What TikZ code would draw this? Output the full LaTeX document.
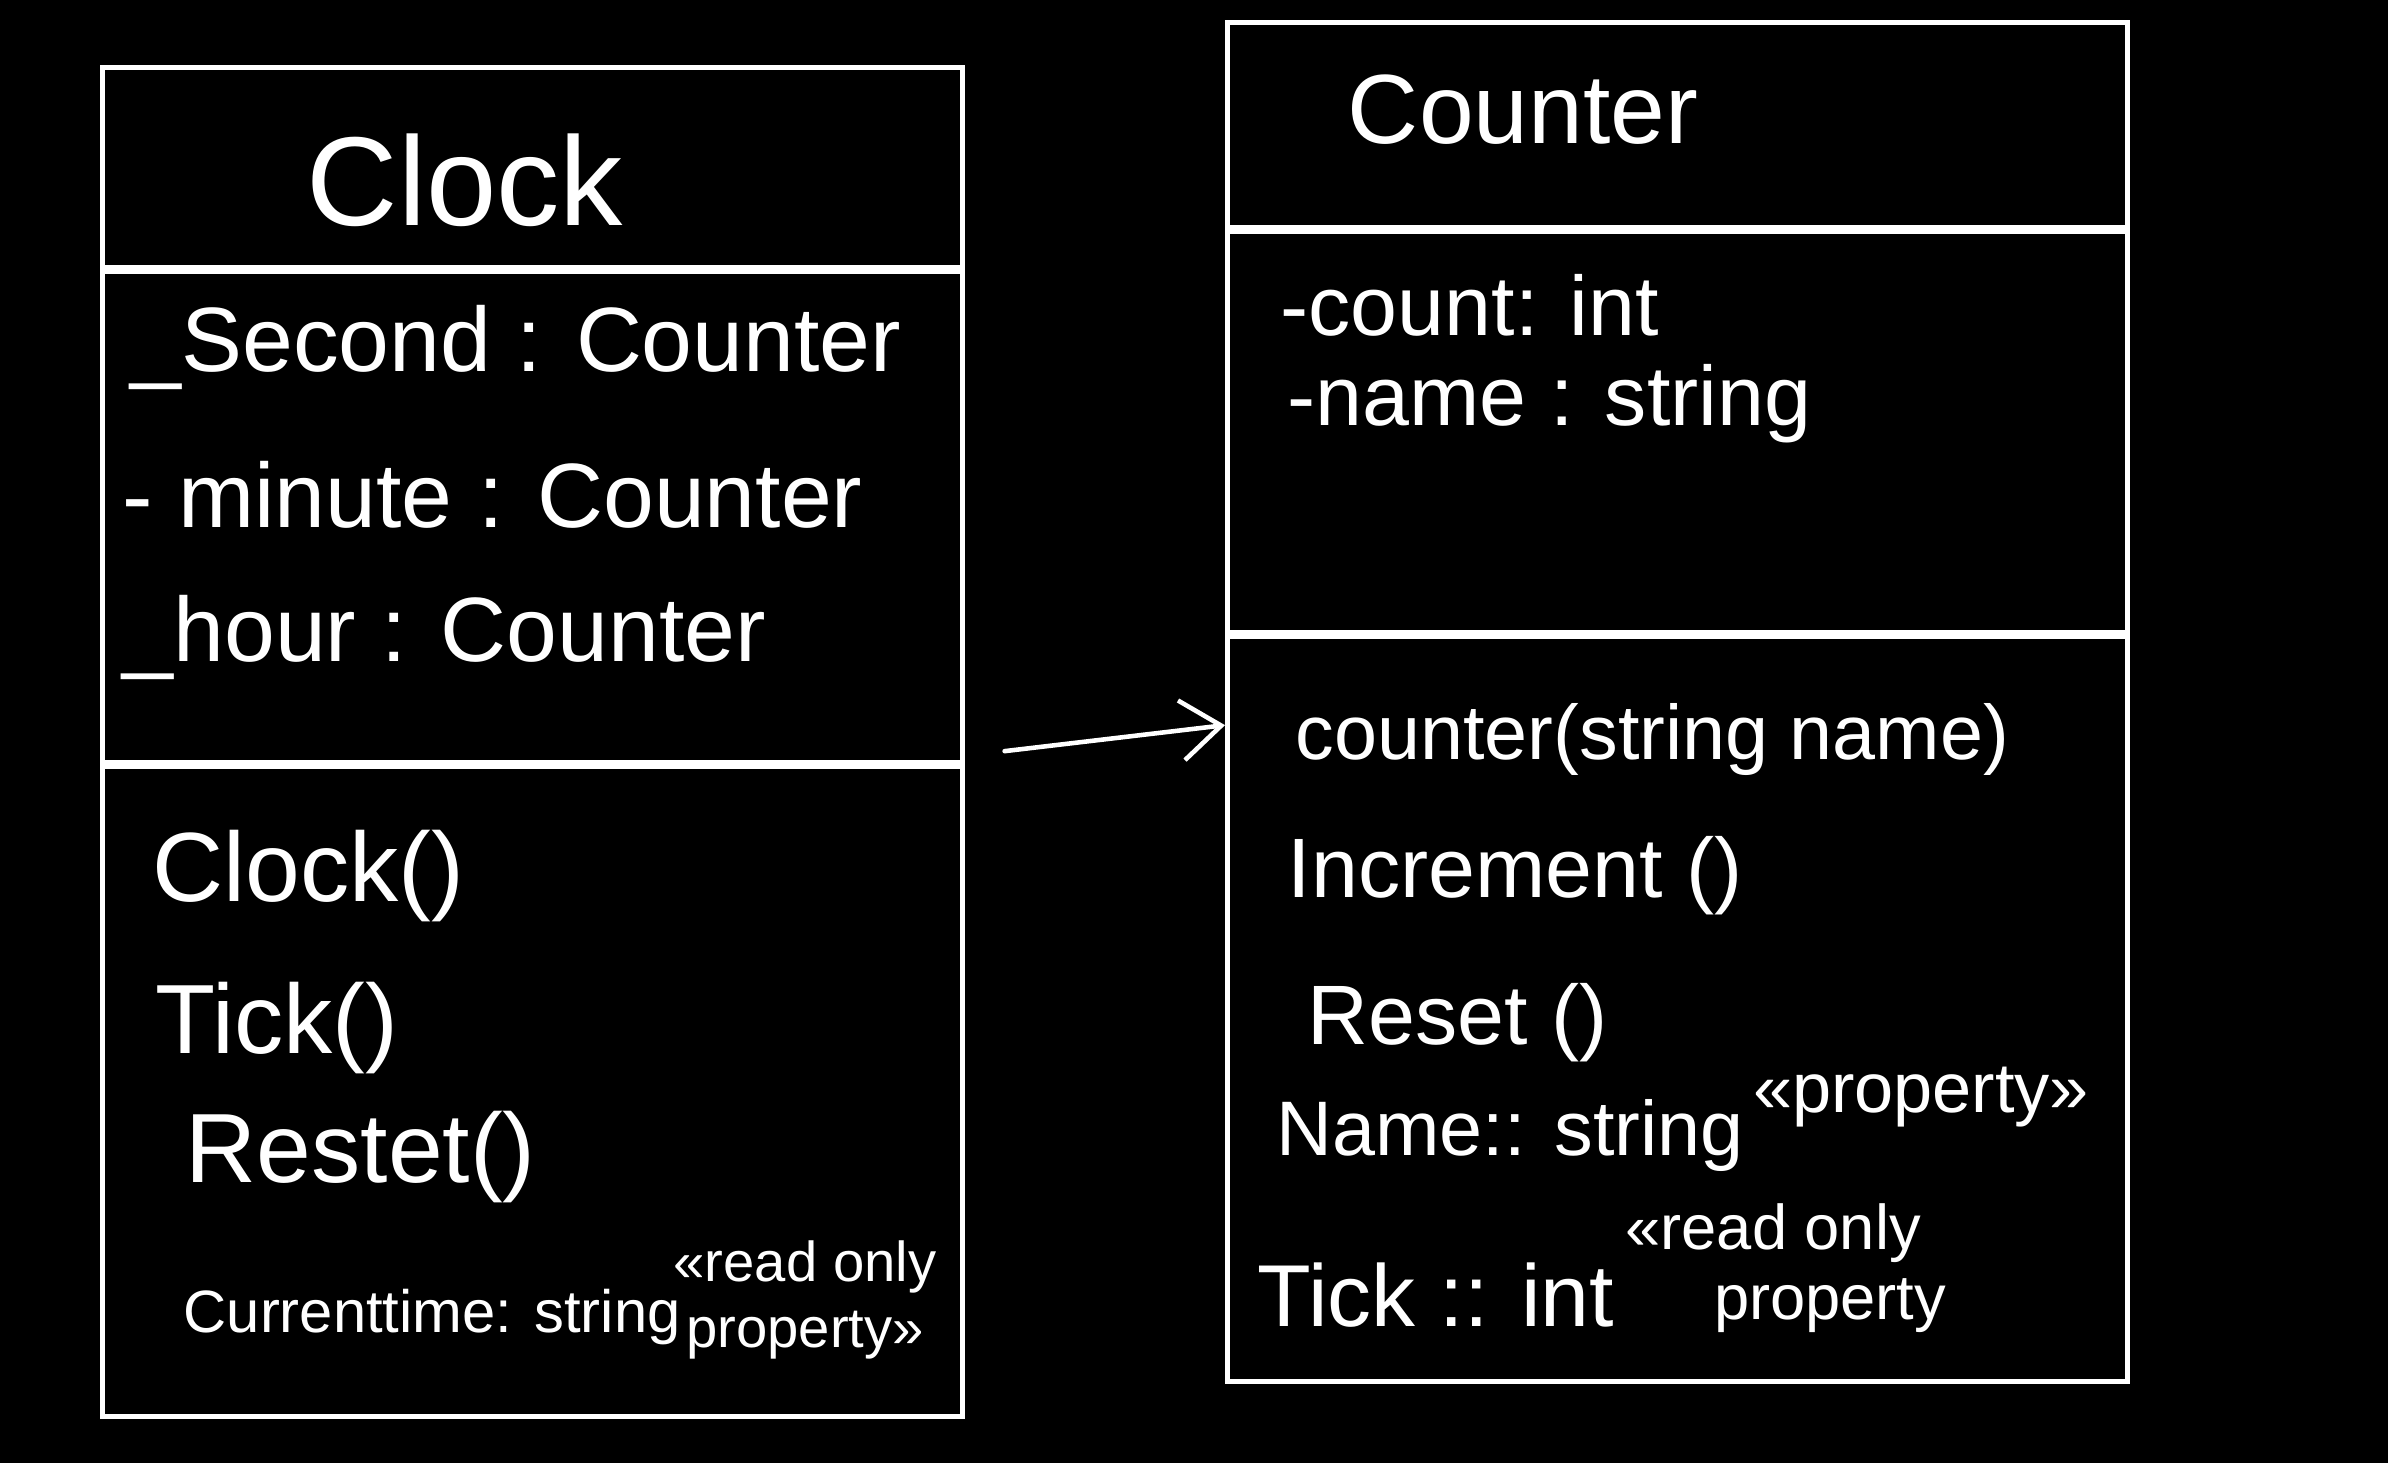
\documentclass[tikz,border=0pt]{standalone}
\usepackage{fontspec}
\setmainfont{Liberation Sans}
\usetikzlibrary{arrows.meta, positioning, calc}
\definecolor{cInk}{RGB}{255, 255, 255}
\definecolor{cBoard}{RGB}{0, 0, 0}
\tikzset{
    % compartments of a class box
    partNode/.style={
        rectangle, draw=cInk, line width=1.3pt,
        anchor=north west, inner sep=0pt
    },
    % class names
    titleNode/.style={
        text=cInk, inner sep=0pt, font=\fontsize{28}{32}\selectfont
    },
    % attributes and operations
    memberNode/.style={
        text=cInk, anchor=west, inner sep=0pt, font=\fontsize{24}{28}\selectfont
    },
    % stereotypes
    stereoNode/.style={
        text=cInk, inner sep=0pt, align=center, font=\fontsize{16}{19}\selectfont
    },
    % association
    conn/.style={
        -{Straight Barb[length=4mm, width=6mm]}, draw=cInk, line width=1.3pt, line cap=round
    }
}

\begin{document}
\begin{tikzpicture}

	\fill[cBoard] (0,0) rectangle (23.88,-14.63);
	\useasboundingbox (0,0) rectangle (23.88,-14.63);

	% 1. Clock
	\node[partNode, minimum width=8.6cm, minimum height=2.0cm] (clockTitle) at (1.00,-0.65) {};
	\node[partNode, minimum width=8.6cm, minimum height=4.9cm] (clockAttr) at (clockTitle.south west) {};
	\node[partNode, minimum width=8.6cm, minimum height=6.5cm] (clockOps) at (clockAttr.south west) {};

	\node[titleNode, font=\fontsize{36}{40}\selectfont] (clockName) at (4.65,-1.80) {Clock};

	\node[memberNode, font=\fontsize{26}{30}\selectfont] (second) at (1.30,-3.47) {\_Second : Counter};
	\node[memberNode, font=\fontsize{26}{30}\selectfont] (minute) at (1.22,-4.95) {- minute : Counter};
	\node[memberNode, font=\fontsize{26}{30}\selectfont] (hour) at (1.22,-6.37) {\_hour : Counter};

	\node[memberNode, font=\fontsize{28}{32}\selectfont] (clockCtor) at (1.52,-8.76) {Clock()};
	\node[memberNode, font=\fontsize{28}{32}\selectfont] (tick) at (1.55,-10.28) {Tick()};
	\node[memberNode, font=\fontsize{28}{32}\selectfont] (restet) at (1.85,-11.57) {Restet()};
	\node[memberNode, font=\fontsize{17}{20}\selectfont] (currentTime) at (1.83,-13.17) {Currenttime: string};
	\node[stereoNode] (timeStereo) at (8.05,-13.00) {«read only\\property»};

	% 2. Counter
	\node[partNode, minimum width=9.0cm, minimum height=2.05cm] (counterTitle) at (12.25,-0.20) {};
	\node[partNode, minimum width=9.0cm, minimum height=4.0cm] (counterAttr) at (counterTitle.south west) {};
	\node[partNode, minimum width=9.0cm, minimum height=7.45cm] (counterOps) at (counterAttr.south west) {};

	\node[titleNode] (counterName) at (15.23,-1.10) {Counter};

	\node[memberNode] (count) at (12.80,-3.05) {-count: int};
	\node[memberNode] (name) at (12.87,-4.04) {-name : string};

	\node[memberNode, font=\fontsize{22}{26}\selectfont] (counterCtor) at (12.95,-7.39) {counter(string name)};
	\node[memberNode] (increment) at (12.87,-8.76) {Increment ()};
	\node[memberNode] (reset) at (13.07,-10.23) {Reset ()};
	\node[memberNode, font=\fontsize{22}{26}\selectfont] (nameProp) at (12.76,-11.35) {Name:: string};
	\node[stereoNode, anchor=west, font=\fontsize{20}{24}\selectfont] (nameStereo) at ([xshift=0.08cm, yshift=0.38cm]nameProp.east) {«property»};
	\node[memberNode, font=\fontsize{25}{29}\selectfont] (tickProp) at (12.57,-12.95) {Tick :: int};
	\node[stereoNode, anchor=west, align=left, font=\fontsize{18}{20}\selectfont] (tickStereo) at ([xshift=0.1cm, yshift=0.27cm]tickProp.east) {«read only\\\hspace*{1.4em}property};

	% 3. association
	\draw[conn] ([xshift=0.4cm, yshift=0.13cm]clockAttr.south east) -- ([yshift=-0.91cm]counterOps.north west);

\end{tikzpicture}
\end{document}
